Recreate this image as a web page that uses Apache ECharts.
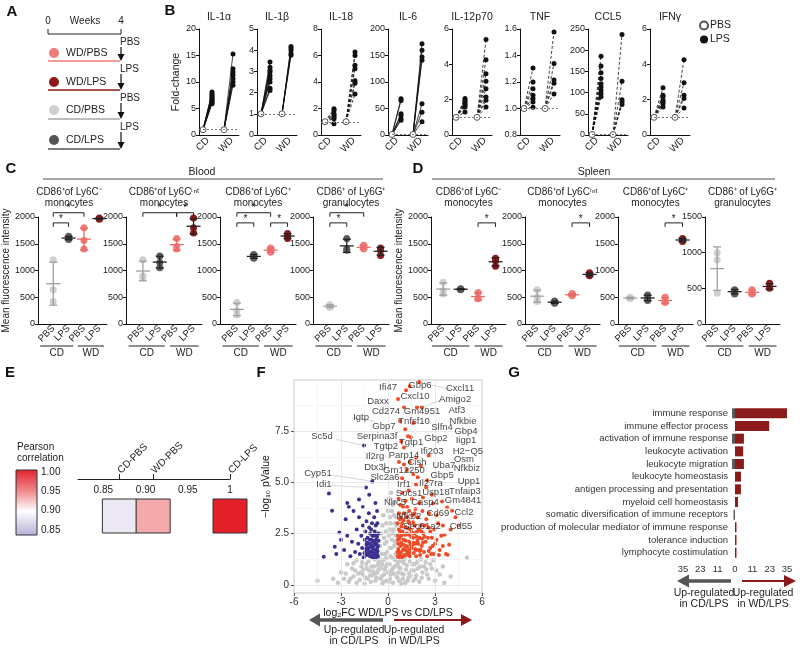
<!DOCTYPE html>
<html><head><meta charset="utf-8">
<script src="https://cdn.jsdelivr.net/npm/echarts@6/dist/echarts.min.js"></script>
<style>html,body{margin:0;padding:0;background:#fff}#c{width:800px;height:648px}</style>
</head><body><div id="c"></div><script>
// ---------------- DATA ----------------
// Panel A scheme
const schemeGroups = ['WD/PBS','WD/LPS','CD/PBS','CD/LPS'];
const schemeTreat = ['PBS','LPS','PBS','LPS'];
// Panel B cytokines (fold-change, PBS = 1)
const cytoNames = ['IL-1α','IL-1β','IL-18','IL-6','IL-12p70','TNF','CCL5','IFNγ'];
const cytoAxisMin = [0,0,0,0,0,0.8,0,0];
const cytoAxisMax = [20,5,8,200,6,1.6,250,6];
const cytoAxisStep = [5,1,2,50,2,0.2,50,2];
const cytoPBS = 1;
const cytoCD_LPS = [
  [8.1,7.8,7.5,7.2,7.0,6.8,6.5,6.3,6.1,5.9],
  [3.44,3.2,3.05,2.97,2.8,2.65,2.5,2.2,2.1],
  [1.99,1.86,1.6,1.5,1.36,1.23,0.85],
  [68.5,65,40,37,31,28],
  [2.06,1.96,1.87,1.77,1.68,1.58,1.3],
  [1.306,1.2,1.15,1.1,1.075,1.05,1.01],
  [186,163,147,133,121,113,105,97.5,90],
  [2.68,2.25,2.15,1.96,1.87,1.77,1.58]
];
const cytoWD_LPS = [
  [15.3,12.5,11.9,11.3,10.6,10.0,9.4],
  [4.18,4.1,4.0,3.84,3.76],
  [6.26,6.0,5.26,5.0,4.1,3.9,3.1],
  [172,160,147,141,59,43,25],
  [5.4,4.26,3.47,3.04,2.62,2.15,1.96,1.58],
  [1.578,1.34,1.215,1.19,1.11],
  [237,127,83,78,72],
  [4.26,2.96,2.25,2.06,1.53]
];
const dietLabels = ['CD','WD'];
// Panels C/D: MFI, groups CD/PBS, CD/LPS, WD/PBS, WD/LPS
const cellTitles = [['CD86⁺of Ly6C⁻','monocytes'],['CD86⁺of Ly6Cⁱⁿᵗ','monocytes'],['CD86⁺of Ly6C⁺','monocytes'],['CD86⁺ of Ly6G⁺','granulocytes']];
const treatLabels = ['PBS','LPS','PBS','LPS'];
const bloodMFI = [
  [[1200,640,420],[1640,1600,1580],[1800,1400,1560],[1970,1980,1960]],
  [[1200,900,870],[1270,1150,1050],[1600,1450,1400],[1980,1800,1700]],
  [[400,250,170],[1300,1260,1230],[1420,1380,1340],[1690,1640,1600]],
  [[360,330,310],[1600,1400,1380],[1470,1430,1400],[1420,1380,1280]]
];
const spleenMFI = [
  [[780,620,560],[660,650,640],[590,480,470],[1230,1180,1080]],
  [[640,500,420],[430,400,390],[570,540,530],[960,920,900]],
  [[500,490,470],[540,480,440],[500,420,400],[1600,1570,1540]],
  [[1000,900,430],[480,460,420],[480,430,420],[570,510,500]]
];
const bloodSig = [[[1,2,1890],[1,3,2080]],[[1,3,2080],[3,4,2080]],[[1,2,1890],[1,3,2080],[3,4,1890]],[[1,2,1890],[1,3,2080]]];
const spleenSig = [[[3,4,1890]],[[3,4,1890]],[[3,4,1890]],[]];
const bloodAxisMax = [2000,2000,2000,2000];
const spleenAxisMax = [2000,2000,2000,1500];
// Panel E
const corrNames = ['CD-PBS','WD-PBS','CD-LPS'];
const corrValues = [0.869,0.909,1.0];
const corrTicks = [0.85,0.90,0.95,1.0];
const corrLegendTicks = ['1.00','0.95','0.90','0.85'];
// Panel F volcano [log2FC, -log10 p]
const volcanoGray = [[-4.5,0.2],[-3.2,0.1],[-2.8,0.3],[-2.5,0.15],[-2.2,0.4],[-2.0,0.1],[-1.8,0.25],[-1.6,0.5],[-1.5,0.05],[-1.3,0.3],[-1.2,0.7],[-1.1,0.15],[-1.0,0.45],[-0.9,0.9],[-0.8,0.2],[-0.7,0.6],[-0.6,1.1],[-0.5,0.3],[-0.45,0.8],[-0.4,1.5],[-0.35,0.05],[-0.3,1.2],[-0.25,0.5],[-0.2,2.0],[-0.15,0.9],[-0.1,0.2],[-0.05,1.6],[0,0.6],[0.05,2.4],[0.1,1.0],[0.12,0.3],[0.15,3.0],[0.2,1.8],[0.22,0.7],[0.25,3.6],[0.3,1.3],[0.32,0.1],[0.35,2.7],[0.4,4.0],[0.42,0.9],[0.45,2.1],[0.5,1.5],[0.52,3.3],[0.55,0.4],[0.6,1.0],[0.7,0.2],[0.8,0.8],[0.9,1.2],[1.0,0.5],[1.1,0.1],[1.2,0.95],[1.3,0.35],[1.4,1.15],[1.5,0.7],[1.6,0.2],[1.7,1.0],[1.8,0.45],[1.9,0.8],[2.0,0.15],[2.2,0.6],[2.4,1.1],[2.6,0.3],[2.8,0.8],[3.0,0.2],[3.3,0.5],[3.6,0.1],[4.0,0.4],[5.04,1.32],[-0.55,1.25],[-0.5,1.9],[-0.45,2.5],[-0.35,2.9],[-0.3,3.4],[-0.25,2.3],[-0.1,3.0],[0,3.6],[0.05,4.2],[0.1,2.7],[0.2,4.5],[0.3,3.9],[0.45,3.0],[0.5,2.4],[-1.4,1.0],[-1.7,0.9],[-2.3,0.8],[-2.6,1.0],[-3.0,0.6],[-3.5,0.3],[1.05,1.25],[0.85,0.05],[-0.85,1.25],[-2.0,1.2],[2.1,1.25],[2.9,1.2],[3.5,0.9],[-0.75,0.35],[-0.95,0.65],[-1.25,1.15],[-1.55,0.75],[-1.9,0.55],[-2.4,0.3],[0.65,0.6],[0.75,1.15],[0.95,0.3],[1.15,0.75],[1.35,0.55],[1.55,1.0],[1.75,0.3],[2.3,0.9],[2.5,0.5],[-0.2,0.75],[0.05,0.15],[0.15,1.4],[-0.05,1.0],[0.35,0.55],[0.25,2.2],[-0.15,2.6],[0.4,1.9],[0.55,2.9],[-0.4,0.4],[-0.6,0.75],[-0.65,0.95],[-0.8,0.55],[-1.05,0.9],[-1.15,0.45],[-1.35,0.8],[-1.45,0.35],[-1.65,1.1],[-1.75,0.6],[-2.1,0.7],[-2.2,1.05],[-2.7,0.55],[0.6,0.35],[0.72,0.85],[0.88,0.55],[1.0,1.05],[1.25,0.2],[1.45,0.45],[1.65,0.7],[1.85,1.1],[2.05,0.9],[2.15,0.35],[2.45,0.75],[2.7,1.0],[3.1,0.7],[-0.28,0.15],[0.18,0.5],[-0.12,1.3],[0.3,0.8],[-0.38,1.0],[0.48,1.2],[0.1,1.8],[-0.2,1.5],[0.38,3.4],[0.28,2.5],[-0.08,2.1],[0.12,3.3]];
const volcanoDown = [[-0.65,1.4],[-0.7,1.8],[-0.75,2.2],[-0.8,1.5],[-0.85,2.6],[-0.9,1.35],[-0.95,1.9],[-1.0,2.4],[-1.05,1.6],[-1.1,2.0],[-1.15,1.4],[-1.2,2.8],[-1.25,1.7],[-1.3,2.3],[-1.35,1.45],[-1.4,1.95],[-1.45,2.6],[-1.5,1.55],[-0.62,2.5],[-0.68,3.0],[-0.72,1.55],[-0.78,2.9],[-0.88,3.3],[-0.92,2.1],[-0.98,1.5],[-1.02,3.0],[-1.08,2.7],[-1.18,2.2],[-1.22,3.5],[-1.32,1.8],[-1.38,3.1],[-1.48,2.2],[-1.55,1.35],[-1.6,2.9],[-1.65,1.8],[-1.7,2.4],[-1.8,1.5],[-1.85,3.3],[-1.9,2.0],[-2.0,2.7],[-2.1,1.6],[-2.2,3.6],[-2.3,2.1],[-2.4,1.4],[-2.5,3.8],[-2.6,2.4],[-2.7,3.2],[-2.8,1.7],[-3.0,2.2],[-3.1,2.55],[-3.3,1.5],[-3.4,1.86],[-3.57,3.62],[-3.77,4.46],[-4.1,1.37],[-2.6,4.0],[-1.85,4.17],[-1.4,4.75],[-1.0,5.05],[-1.2,4.4],[-0.8,4.0],[-0.7,3.6],[-1.6,3.8],[-1.53,6.8],[-0.66,1.65],[-0.74,2.0],[-0.82,1.7],[-0.9,2.4],[-0.96,1.75],[-1.12,1.6],[-1.28,2.0],[-1.42,1.6],[-0.7,2.35],[-0.84,1.95],[-1.06,2.2],[-1.16,1.85],[-0.64,1.9],[-0.76,1.35],[-0.86,2.15],[-0.94,1.55],[-1.04,1.85],[-1.14,2.5],[-1.24,1.5],[-1.34,2.05],[-1.44,1.75],[-0.6,2.15],[-0.78,2.45],[-1.0,1.35],[-1.2,1.55],[-0.68,1.45]];
const volcanoUp = [[0.62,1.4],[0.65,2.0],[0.7,2.7],[0.72,1.6],[0.75,3.2],[0.8,1.9],[0.85,2.4],[0.88,1.35],[0.9,3.0],[0.95,1.7],[1.0,2.2],[1.02,3.5],[1.05,1.45],[1.1,2.8],[1.15,1.9],[1.2,2.5],[1.22,3.8],[1.25,1.5],[1.3,3.1],[1.35,2.1],[1.4,1.4],[1.45,2.7],[1.5,1.8],[1.55,3.4],[1.6,2.3],[1.65,1.55],[1.7,2.9],[1.75,2.0],[1.8,1.4],[1.85,2.6],[1.9,3.3],[1.95,1.7],[2.0,2.3],[2.05,1.45],[2.1,2.9],[2.15,1.9],[2.2,3.6],[2.25,2.5],[2.3,1.6],[2.4,2.1],[2.5,1.4],[2.6,2.8],[2.62,3.5],[2.7,1.8],[2.8,2.3],[2.9,1.5],[3.0,2.0],[3.2,3.0],[3.3,1.7],[3.4,2.4],[3.6,2.45],[3.7,1.5],[3.8,1.47],[3.9,1.96],[0.68,4.2],[0.78,3.9],[0.92,4.5],[1.12,4.1],[1.32,4.6],[1.52,4.2],[1.79,4.9],[1.6,5.4],[1.9,5.25],[2.43,4.75],[2.23,4.26],[2.87,3.97],[3.45,4.07],[3.77,3.77],[4.09,3.62],[1.02,5.88],[1.79,6.2],[1.02,6.7],[1.28,7.25],[1.45,7.2],[0.77,8.0],[1.6,7.9],[1.02,8.67],[1.85,8.67],[2.17,8.67],[0.64,9.07],[1.15,9.5],[1.4,9.7],[2.0,9.9],[0.9,5.2],[1.2,5.6],[1.4,6.0],[2.1,5.8],[2.5,5.1],[2.8,4.4],[3.1,3.4],[4.3,3.3],[4.0,2.7],[4.5,2.9],[3.5,2.9],[0.7,6.0],[0.85,7.0],[1.1,7.6],[2.6,6.3],[0.66,1.75],[0.74,2.25],[0.82,1.55],[0.86,2.85],[0.98,1.95],[1.08,2.45],[1.18,1.65],[1.28,2.75],[1.38,1.7],[1.48,2.35],[1.58,1.95],[1.68,2.5],[1.78,1.7],[1.88,2.15],[1.98,2.7],[2.08,1.7],[2.18,2.25],[2.35,2.9],[2.55,2.3],[2.75,1.5],[0.7,3.5],[0.96,3.8],[1.35,3.6],[1.75,3.7],[2.0,4.0],[0.6,1.6],[0.64,2.4],[0.69,1.35],[0.77,2.6],[0.83,2.05],[0.93,2.6],[1.03,1.75],[1.13,2.15],[1.23,1.85],[1.33,2.45],[1.43,1.95],[1.53,2.55],[1.63,2.05],[1.73,1.75],[1.83,2.35],[1.93,2.0],[2.03,1.65],[2.13,2.6],[2.23,2.05],[2.33,2.35],[0.61,3.0],[0.79,3.3],[0.99,3.15],[1.19,3.3],[1.39,3.0],[1.59,3.05],[1.69,3.5],[2.45,3.2],[2.7,2.6],[2.95,2.7],[3.1,2.2],[3.25,1.45],[3.5,1.9],[2.85,1.9],[2.6,1.65],[0.63,2.2],[0.73,1.45],[0.97,1.4],[1.17,1.45],[1.37,1.55]];
const geneLabels = [['Ifi47',0,9.66],['Gbp6',2.04,9.75],['Cxcl11',4.6,9.6],['Cxcl10',1.72,9.2],['Amigo2',4.28,9.07],['Daxx',-0.64,8.97],['Cd274',-0.13,8.48],['Gm4951',2.17,8.48],['Atf3',4.4,8.53],['Igtp',-1.72,8.19],['Tnfsf10',1.66,8.0],['Nfkbie',4.79,8.0],['Gbp7',-0.26,7.75],['Slfn4',3.45,7.7],['Gbp4',4.98,7.5],['Sc5d',-4.21,7.25],['Serpina3f',-0.70,7.25],['Gbp2',3.06,7.16],['Iigp1',4.98,7.06],['Tgtp1',1.47,6.96],['Tgtp2',-0.13,6.76],['Ifi203',2.81,6.52],['H2−Q5',5.1,6.52],['Parp14',1.02,6.32],['Il2rg',-0.83,6.27],['Osm',4.85,6.13],['Cish',1.85,5.98],['Uba7',3.57,5.83],['Dtx3l',-0.83,5.74],['Nfkbiz',5.04,5.69],['Gm12250',1.02,5.59],['Cyp51',-4.47,5.44],['Gbp5',3.45,5.34],['Slc2a6',-0.19,5.25],['Upp1',5.17,5.05],['Irf1',1.02,4.9],['Il27ra',2.74,4.95],['Idi1',-4.09,4.9],['Socs1',1.34,4.46],['Usp18',3.06,4.51],['Tnfaip3',4.91,4.56],['Nlrc5',0.45,4.02],['Casp4',2.36,4.02],['Gm4841',4.79,4.12],['Nfkb2',1.34,3.33],['Cd69',3.19,3.48],['Ccl2',4.85,3.53],['Sec61a2',2.17,2.84],['Cd55',4.66,2.84]];
const geneLinks = [[-3.3,7.1,-1.53,6.8],[-3.5,5.35,-1.0,5.05],[-3.6,4.85,-1.4,4.75],[3.9,9.55,2.0,9.9],[3.55,9.05,2.17,8.67],[-2.3,8.15,-0.9,8.0]];
// Panel G
const goTerms = ['immune response','immune effector process','activation of immune response','leukocyte activation','leukocyte migration','leukocyte homeostasis','antigen processing and presentation','myeloid cell homeostasis','somatic diversification of immune receptors','production of molecular mediator of immune response','tolerance induction','lymphocyte costimulation'];
const goWD = [35,23,6,5.5,6,4,4,2,0,1,1,1];
const goCD = [2,0,2,0,2,0,0,0,1,0,0,0];
const goTicks = [-35,-70/3,-35/3,0,35/3,70/3,35];

// ---------------- STYLE / LAYOUT ----------------
const FONT = '"Liberation Sans", Arial, Helvetica, sans-serif';
const TXT = '#222';
const groupColors = ['#cfcfcf','#5a5a5a','#f07b78','#8b1a1a'];   // CD/PBS, CD/LPS, WD/PBS, WD/LPS
const schemeColors = ['#f07b78','#8b1a1a','#cfcfcf','#555555']; // WD/PBS, WD/LPS, CD/PBS, CD/LPS
const errColors = ['#a0a0a0','#222222','#e86a66','#222222'];
const bLeft = [199,257,321,388,452,520,588,650];
const cLeft = [31,126,220,313];
const dLeft = [431,525,618,705];

function txt(x, y, text, o) {
  o = o || {};
  const a = o.align || 'left', v = o.va || 'middle';
  return {type:'text', x:x, y:y, silent:true, z:50, style:{text:text, fill:o.fill||TXT, fontSize:o.size||10, fontFamily:FONT, fontWeight:o.bold?'bold':'normal', align:a, textAlign:a, verticalAlign:v, textVerticalAlign:v}};
}
function ln(x1,y1,x2,y2,c,w){ return {type:'line', silent:true, z:50, shape:{x1,y1,x2,y2}, style:{stroke:c||'#222', lineWidth:w||1}}; }
function poly(pts,c){ return {type:'polygon', silent:true, z:50, shape:{points:pts}, style:{fill:c}}; }
function baseAxis(){ return {axisLine:{show:true,onZero:false,lineStyle:{color:'#111',width:1}}, axisTick:{show:true,length:3,lineStyle:{color:'#111'}}, axisLabel:{color:TXT,fontSize:9,margin:3,fontFamily:FONT,formatter:v=>String(v)}, splitLine:{show:false}}; }

const option = {animation:false, textStyle:{fontFamily:FONT}, grid:[], xAxis:[], yAxis:[], series:[], graphic:[]};
const G = option.graphic;

// ---- Panel letters
[['A',12,12],['B',170,11],['C',11,169],['D',418,169],['E',10,373],['F',261,373],['G',514,373]].forEach(l=>G.push(txt(l[1],l[2],l[0],{size:15,bold:true,align:'center',fill:'#111'})));

// ---- Panel A scheme
G.push(txt(48,21,'0',{align:'center'}), txt(85,21,'Weeks',{align:'center'}), txt(121,21,'4',{align:'center'}));
G.push(ln(48,34,121,34,'#222',1), ln(48,29,48,34,'#222',1), ln(121,29,121,34,'#222',1));
const aCircleY=[53,82,110,140], aLineY=[61,90,119,149], aLineCol=['#f07b78','#8b1a1a','#a8a8a8','#555'], aTreatY=[42,69,98,127], aArrTop=[47,74,103,132];
schemeGroups.forEach((g,i)=>{
  G.push({type:'circle', silent:true, z:50, shape:{cx:54,cy:aCircleY[i],r:5}, style:{fill:schemeColors[i]}});
  G.push(txt(66,aCircleY[i],g,{size:10.5}));
  G.push(ln(48,aLineY[i],120,aLineY[i],aLineCol[i],1.5));
  G.push(ln(121,aArrTop[i],121,aLineY[i]-6,'#111',1.2));
  G.push(poly([[121,aLineY[i]],[117.5,aLineY[i]-7],[124.5,aLineY[i]-7]],'#111'));
  G.push(txt(120,aTreatY[i],schemeTreat[i],{size:10}));
});

// ---- Panel B
const bx = [0.4,1.3,2.5,3.4];
cytoNames.forEach((name,i)=>{
  const gi = option.grid.length;
  option.grid.push({left:bLeft[i], top:29, width:40, height:106});
  const xa = baseAxis();
  Object.assign(xa,{type:'value', gridIndex:gi, min:0, max:4, axisTick:{show:false},
    axisLabel:{customValues:[0.9,3.3], formatter:v=>v<2?dietLabels[0]:dietLabels[1], rotate:45, fontSize:10, margin:4, color:TXT, fontFamily:FONT}});
  option.xAxis.push(xa);
  const ya = baseAxis();
  Object.assign(ya,{type:'value', gridIndex:gi, min:cytoAxisMin[i], max:cytoAxisMax[i], interval:cytoAxisStep[i]});
  ya.axisLabel.formatter = cytoAxisStep[i] < 1 ? (v=>v.toFixed(1)) : (v=>String(Math.round(v)));
  if (i===0) Object.assign(ya,{name:'Fold-change', nameLocation:'middle', nameGap:17, nameRotate:90, nameTextStyle:{fontSize:10.5,color:TXT,fontFamily:FONT}});
  option.yAxis.push(ya);
  G.push(txt(bLeft[i]+20,17,name,{align:'center',size:10.5}));
  const dashed = !(i===0||i===1||i===3);
  const lineData = cytoCD_LPS[i].map(v=>({coords:[[bx[0],cytoPBS],[bx[1],v]]}))
    .concat(cytoWD_LPS[i].map(v=>({coords:[[bx[2],cytoPBS],[bx[3],v]]})));
  option.series.push({type:'lines', coordinateSystem:'cartesian2d', xAxisIndex:gi, yAxisIndex:gi, polyline:false, silent:true, z:2,
    lineStyle:{color:'#111', width:0.8, opacity:1, type:dashed?[3,2]:'solid'}, data:lineData});
  option.series.push({type:'scatter', name:'PBS', xAxisIndex:gi, yAxisIndex:gi, symbol:'circle', symbolSize:6, z:4,
    itemStyle:{color:'#ffffff', borderColor:'#555', borderWidth:1, opacity:1},
    data:[[bx[0],cytoPBS],[bx[2],cytoPBS]],
    markLine:{silent:true, symbol:'none', label:{show:false}, lineStyle:{color:'#777', type:[2,2], width:1}, data:[{yAxis:cytoPBS}]}});
  option.series.push({type:'scatter', name:'LPS', xAxisIndex:gi, yAxisIndex:gi, symbol:'circle', symbolSize:5, z:3,
    itemStyle:{color:'#111', opacity:1},
    data:cytoCD_LPS[i].map(v=>[bx[1],v]).concat(cytoWD_LPS[i].map(v=>[bx[3],v]))});
});
option.legend = {data:['PBS','LPS'], orient:'vertical', left:694, top:15, itemWidth:8, itemHeight:8, itemGap:3, icon:'circle', selectedMode:false,
  textStyle:{fontSize:10.5, color:TXT, fontFamily:FONT, padding:[0,0,0,-3]}};

// ---- Panels C / D
function errRender(params, api){
  const x=api.value(0), m=api.value(1), sd=api.value(2);
  const pm=api.coord([x,m]), pl=api.coord([x,m-sd]), ph=api.coord([x,m+sd]);
  const c=errColors[params.dataIndex];
  const s={stroke:c, lineWidth:1.3};
  return {type:'group', children:[
    {type:'line', shape:{x1:pm[0]-7,y1:pm[1],x2:pm[0]+7,y2:pm[1]}, style:s},
    {type:'line', shape:{x1:pl[0],y1:pl[1],x2:ph[0],y2:ph[1]}, style:s},
    {type:'line', shape:{x1:pl[0]-4,y1:pl[1],x2:pl[0]+4,y2:pl[1]}, style:s},
    {type:'line', shape:{x1:ph[0]-4,y1:ph[1],x2:ph[0]+4,y2:ph[1]}, style:s}
  ]};
}
function sigRender(params, api){
  const y=api.value(2);
  const p1=api.coord([api.value(0),y]), p2=api.coord([api.value(1),y]);
  return {type:'group', children:[
    {type:'polyline', shape:{points:[[p1[0],p1[1]+4],[p1[0],p1[1]],[p2[0],p2[1]],[p2[0],p2[1]+4]]}, style:{stroke:'#222', lineWidth:1, fill:'none'}},
    {type:'text', style:{text:'*', x:(p1[0]+p2[0])/2, y:p1[1]+1, fill:'#222', fontSize:10, fontFamily:FONT, align:'center', textAlign:'center', verticalAlign:'bottom', textVerticalAlign:'bottom'}}
  ]};
}
function dietRender(yMin){ return function(params, api){
  const p1=api.coord([api.value(0),yMin]), p2=api.coord([api.value(1),yMin]);
  const y=p1[1]+22;
  return {type:'group', children:[
    {type:'line', shape:{x1:p1[0],y1:y,x2:p2[0],y2:y}, style:{stroke:'#222', lineWidth:1}},
    {type:'text', style:{text:dietLabels[params.dataIndex], x:(p1[0]+p2[0])/2, y:y+2, fill:TXT, fontSize:10, fontFamily:FONT, align:'center', textAlign:'center', verticalAlign:'top', textVerticalAlign:'top'}}
  ]};
};}
function meanOf(a){ return a.reduce((s,v)=>s+v,0)/a.length; }
function sdOf(a){ const m=meanOf(a); return Math.sqrt(a.reduce((s,v)=>s+(v-m)*(v-m),0)/(a.length-1)); }

[[bloodMFI,bloodSig,bloodAxisMax,cLeft,0,4.5,76,[[0.15,2.3],[2.6,4.3]]],
 [spleenMFI,spleenSig,spleenAxisMax,dLeft,0.3,4.6,75,[[0.35,2.5],[2.8,4.4]]]].forEach((P,pi)=>{
  const [mfi,sig,amax,lefts,xmin,xmax,w,spans]=P;
  mfi.forEach((groups,c)=>{
    const gi=option.grid.length;
    option.grid.push({left:lefts[c], top:217, width:w, height:107});
    const xa=baseAxis();
    Object.assign(xa,{type:'value', gridIndex:gi, min:xmin, max:xmax, axisTick:{show:false},
      axisLabel:{customValues:[1,2,3,4], formatter:v=>treatLabels[Math.round(v)-1], rotate:45, fontSize:9.5, margin:3, color:TXT, fontFamily:FONT}});
    option.xAxis.push(xa);
    const ya=baseAxis();
    Object.assign(ya,{type:'value', gridIndex:gi, min:0, max:amax[c], interval:500});
    if (c===0) Object.assign(ya,{name:'Mean fluorescence intensity', nameLocation:'middle', nameGap:17, nameRotate:90, nameTextStyle:{fontSize:10,color:TXT,fontFamily:FONT}});
    option.yAxis.push(ya);
    G.push(txt(lefts[c]+w/2,192,cellTitles[c][0],{align:'center',size:10}));
    G.push(txt(lefts[c]+w/2,203,cellTitles[c][1],{align:'center',size:10}));
    const pts=[];
    groups.forEach((vals,k)=>vals.forEach(v=>pts.push({value:[k+1,v], itemStyle:{color:groupColors[k], opacity:1}})));
    option.series.push({type:'scatter', xAxisIndex:gi, yAxisIndex:gi, symbol:'circle', symbolSize:7, z:3, itemStyle:{opacity:1}, data:pts});
    option.series.push({type:'custom', xAxisIndex:gi, yAxisIndex:gi, clip:false, silent:true, z:4, renderItem:errRender,
      data:groups.map((vals,k)=>[k+1, meanOf(vals), sdOf(vals)])});
    if (sig[c].length) option.series.push({type:'custom', xAxisIndex:gi, yAxisIndex:gi, clip:false, silent:true, z:4, renderItem:sigRender, data:sig[c]});
    option.series.push({type:'custom', xAxisIndex:gi, yAxisIndex:gi, clip:false, silent:true, z:4, renderItem:dietRender(0), data:spans});
  });
});
// section headers
G.push(txt(202,172,'Blood',{align:'center',size:10.5}), ln(43,179,383,179,'#888',1.5));
G.push(txt(594,172,'Spleen',{align:'center',size:10.5}), ln(432,179,775,179,'#888',1.5));

// ---- Panel E
G.push(txt(17,447,'Pearson',{size:10}), txt(17,458,'correlation',{size:10}));
G.push({type:'rect', silent:true, z:50, shape:{x:16,y:470,width:21,height:65},
  style:{fill:new echarts.graphic.LinearGradient(0,0,0,1,[{offset:0,color:'#e3202a'},{offset:0.33,color:'#f08a8d'},{offset:0.63,color:'#ffffff'},{offset:1,color:'#b7aed5'}]), stroke:'#333', lineWidth:1}});
corrLegendTicks.forEach((t,i)=>G.push(txt(41,472+i*19.3,t,{size:10})));
{
  const gi=option.grid.length;
  option.grid.push({left:78, top:479, width:152, height:74});
  option.xAxis.push({type:'value', gridIndex:gi, position:'top', min:0.82, max:1.0,
    axisLine:{show:true, onZero:false, lineStyle:{color:'#222',width:1}},
    axisTick:{show:true, customValues:corrValues, length:5, inside:false, lineStyle:{color:'#222'}},
    axisLabel:{customValues:corrTicks, inside:true, margin:6, fontSize:10, color:TXT, fontFamily:FONT, formatter:v=>v>0.999?'1':v.toFixed(2)},
    splitLine:{show:false}});
  option.xAxis.push({type:'value', gridIndex:gi, position:'top', min:0.82, max:1.0,
    axisLine:{show:false}, axisTick:{show:false}, splitLine:{show:false},
    axisLabel:{customValues:corrValues, rotate:45, margin:7, fontSize:10, color:TXT, fontFamily:FONT,
      formatter:v=>{let b=0;corrValues.forEach((c,k)=>{if(Math.abs(c-v)<Math.abs(corrValues[b]-v))b=k;});return corrNames[b];}}});
  option.yAxis.push({type:'value', gridIndex:gi, min:0, max:1, show:false});
  const sqColors=['#ebe8f3','#f4aaab','#e3202a'];
  option.series.push({type:'scatter', xAxisIndex:option.xAxis.length-2, yAxisIndex:option.yAxis.length-1, symbol:'rect', symbolSize:34, silent:true,
    data:corrValues.map((v,k)=>({value:[v,0.5], itemStyle:{color:sqColors[k], borderColor:'#333', borderWidth:1, opacity:1}}))});
}

// ---- Panel F volcano
{
  const gi=option.grid.length;
  option.grid.push({left:294, top:380, width:188, height:213, show:true, borderColor:'#c8c8c8', borderWidth:1, backgroundColor:'rgba(0,0,0,0)'});
  option.xAxis.push({type:'value', gridIndex:gi, min:-6, max:6, interval:3,
    axisLine:{show:false, onZero:false}, axisTick:{show:true,length:3,lineStyle:{color:'#555'}},
    axisLabel:{fontSize:10, color:'#333', margin:4, fontFamily:FONT}, splitLine:{show:false},
    name:'log₂FC WD/LPS vs CD/LPS', nameLocation:'middle', nameGap:13, nameTextStyle:{fontSize:10.5,color:'#111',fontFamily:FONT}});
  const fx=option.xAxis.length-1;
  option.yAxis.push({type:'value', gridIndex:gi, min:-0.4, max:10,
    axisLine:{show:false, onZero:false}, axisTick:{show:true, customValues:[0,2.5,5,7.5], length:3, lineStyle:{color:'#555'}},
    axisLabel:{customValues:[0,2.5,5,7.5], formatter:v=>v===0?'0':v.toFixed(1), fontSize:10, color:'#333', margin:5, fontFamily:FONT}, splitLine:{show:false},
    name:'−log₁₀ pValue', nameLocation:'middle', nameGap:21, nameRotate:90, nameTextStyle:{fontSize:10.5,color:'#111',fontFamily:FONT}});
  const fy=option.yAxis.length-1;
  const major={color:'#e4e4e4',width:0.8,type:'solid'}, minor={color:'#f0f0f0',width:0.6,type:'solid'};
  const gridLines=[].concat([-3,0,3].map(v=>({xAxis:v,lineStyle:major})), [-4.5,-1.5,1.5,4.5].map(v=>({xAxis:v,lineStyle:minor})),
    [0,2.5,5,7.5].map(v=>({yAxis:v,lineStyle:major})), [1.25,3.75,6.25,8.75].map(v=>({yAxis:v,lineStyle:minor})));
  option.series.push({type:'scatter', xAxisIndex:fx, yAxisIndex:fy, z:1, silent:true, symbolSize:0, data:[[0,0]],
    markLine:{silent:true, symbol:'none', label:{show:false}, data:gridLines}});
  option.series.push({type:'scatter', xAxisIndex:fx, yAxisIndex:fy, z:2, silent:true, symbolSize:4.5, itemStyle:{color:'#c9c9c9', opacity:1}, data:volcanoGray});
  option.series.push({type:'scatter', xAxisIndex:fx, yAxisIndex:fy, z:3, silent:true, symbolSize:4, itemStyle:{color:'#3b3192', opacity:1}, data:volcanoDown});
  option.series.push({type:'scatter', xAxisIndex:fx, yAxisIndex:fy, z:3, silent:true, symbolSize:4, itemStyle:{color:'#f04a26', opacity:1}, data:volcanoUp});
  option.series.push({type:'lines', coordinateSystem:'cartesian2d', xAxisIndex:fx, yAxisIndex:fy, polyline:false, silent:true, z:2,
    lineStyle:{color:'#c4c4c4', width:0.7, opacity:1}, data:geneLinks.map(l=>({coords:[[l[0],l[1]],[l[2],l[3]]]}))});
  option.series.push({type:'scatter', xAxisIndex:fx, yAxisIndex:fy, z:5, silent:true, symbolSize:1, itemStyle:{color:'rgba(0,0,0,0)'},
    label:{show:true, position:'inside', formatter:'{b}', fontSize:9.5, color:'#111', fontFamily:FONT},
    labelLayout:{hideOverlap:false},
    data:geneLabels.map(g=>({name:g[0], value:[g[1],g[2]]}))});
}
// F arrows
G.push(ln(383,620,318,620,'#555',3.5), poly([[309,620],[320,613.5],[320,626.5]],'#555'));
G.push(ln(394,620,462,620,'#8b1a1a',2), poly([[472,620],[461,614],[461,626]],'#8b1a1a'));
G.push(txt(354,630,'Up-regulated',{align:'center',size:10.5}), txt(354,641,'in CD/LPS',{align:'center',size:10.5}));
G.push(txt(414,630,'Up-regulated',{align:'center',size:10.5}), txt(414,641,'in WD/LPS',{align:'center',size:10.5}));

// ---- Panel G
{
  const gi=option.grid.length;
  option.grid.push({left:683, top:407, width:104, height:152});
  option.xAxis.push({type:'value', gridIndex:gi, min:-35, max:35,
    axisLine:{show:false, onZero:false}, axisTick:{show:false}, splitLine:{show:false},
    axisLabel:{customValues:goTicks, formatter:v=>String(Math.floor(Math.abs(v)+1e-6)), fontSize:9.5, color:'#333', margin:5, fontFamily:FONT}});
  const gx=option.xAxis.length-1;
  option.yAxis.push({type:'category', gridIndex:gi, data:goTerms, inverse:true,
    axisLine:{show:false, onZero:false}, axisTick:{show:false}, splitLine:{show:false},
    axisLabel:{interval:0, fontSize:9.5, color:'#333', margin:-45, fontFamily:FONT}});
  const gy=option.yAxis.length-1;
  option.series.push({type:'bar', xAxisIndex:gx, yAxisIndex:gy, barWidth:10, barGap:'-100%', silent:true, itemStyle:{color:'#8b1a1a'}, data:goWD});
  option.series.push({type:'bar', xAxisIndex:gx, yAxisIndex:gy, barWidth:10, barGap:'-100%', silent:true, itemStyle:{color:'#5a5a5a'}, data:goCD.map(v=>-v)});
}
G.push(ln(731,581,688,581,'#555',3.5), poly([[677,581],[689,574.5],[689,587.5]],'#555'));
G.push(ln(742,581,785,581,'#8b1a1a',2), poly([[796,581],[784,575],[784,587]],'#8b1a1a'));
G.push(txt(704,593,'Up-regulated',{align:'center',size:10.5}), txt(704,604,'in CD/LPS',{align:'center',size:10.5}));
G.push(txt(763,593,'Up-regulated',{align:'center',size:10.5}), txt(763,604,'in WD/LPS',{align:'center',size:10.5}));

const chart = echarts.init(document.getElementById('c'), null, {renderer:'canvas', width:800, height:648});
chart.setOption(option);
</script></body></html>
